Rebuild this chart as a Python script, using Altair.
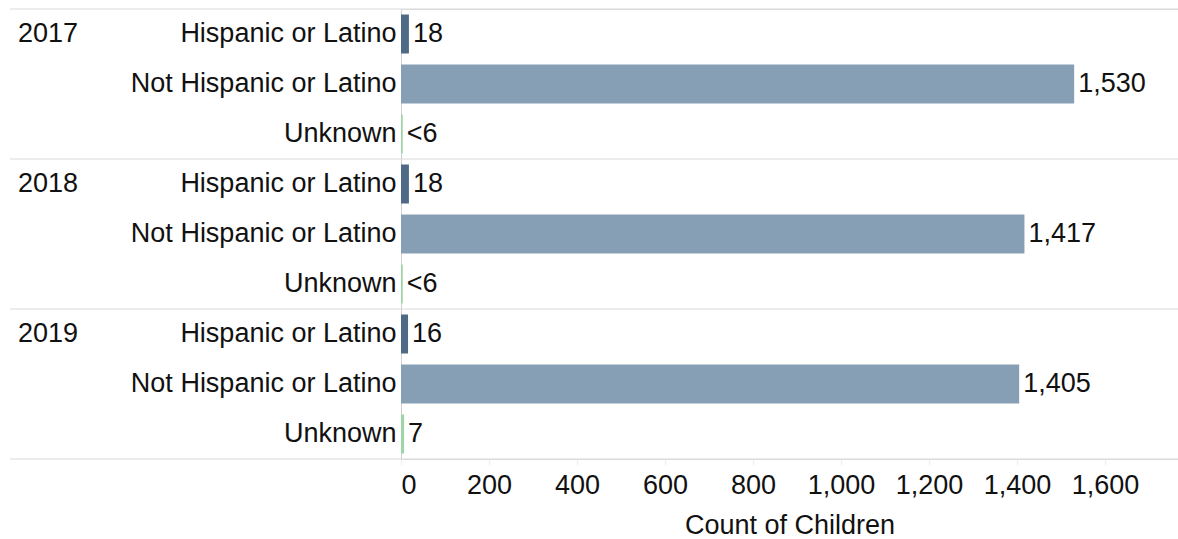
import altair as alt
import pandas as pd

years = ["2017", "2018", "2019"]
ethnicities = ["Hispanic or Latino", "Not Hispanic or Latino", "Unknown"]
# counts per year, in ethnicity order ("<6" suppressed values drawn as a small estimate)
counts = {
    "2017": [18, 1530, 4],
    "2018": [18, 1417, 4],
    "2019": [16, 1405, 7],
}
value_labels = {
    "2017": ["18", "1,530", "<6"],
    "2018": ["18", "1,417", "<6"],
    "2019": ["16", "1,405", "7"],
}
colors = ["#4e6a86", "#879fb4", "#9fd4a6"]
x_ticks = [0, 200, 400, 600, 800, 1000, 1200, 1400, 1600]

rows = []
for y in years:
    for i, e in enumerate(ethnicities):
        rows.append({
            "year": y,
            "eth": e,
            "key": f"{y}|{e}",
            "count": counts[y][i],
            "label": value_labels[y][i],
        })
df = pd.DataFrame(rows)
order = list(df["key"])

FONT = "Liberation Sans"
FS = 27
W, H = 777, 450

y_enc = alt.Y(
    "key:N",
    sort=order,
    scale=alt.Scale(paddingInner=0.22, paddingOuter=0.11),
    axis=alt.Axis(
        title=None,
        ticks=False,
        domain=True,
        domainColor="#cfcfcf",
        labelExpr="split(datum.value, '|')[1]",
        labelFontSize=FS,
        labelFont=FONT,
        labelColor="#111111",
        labelPadding=5,
        labelLimit=400,
    ),
)

x_enc = alt.X(
    "count:Q",
    scale=alt.Scale(domain=[0, 1766], nice=False, zero=True),
    axis=alt.Axis(
        values=x_ticks,
        format=",d",
        title="Count of Children",
        titleFontSize=FS,
        titleFont=FONT,
        titleFontWeight="normal",
        titleColor="#111111",
        titlePadding=14,
        labelFontSize=FS,
        labelFont=FONT,
        labelColor="#111111",
        labelFlush=True,
        labelPadding=7,
        domain=False,
        grid=False,
        ticks=True,
        tickColor="#eeeeee",
        tickSize=6,
    ),
)

base = alt.Chart(df)

bars = base.mark_bar().encode(
    y=y_enc,
    x=x_enc,
    color=alt.Color("eth:N", scale=alt.Scale(domain=ethnicities, range=colors), legend=None),
)

vals = base.mark_text(align="left", baseline="middle", dx=4, fontSize=FS, font=FONT, color="#111111").encode(
    y=alt.Y("key:N", sort=order),
    x=alt.X("count:Q"),
    text="label:N",
)

first_rows = base.transform_filter(alt.datum.eth == ethnicities[0])

year_text = first_rows.mark_text(align="left", baseline="middle", fontSize=FS, font=FONT, color="#111111").encode(
    y=alt.Y("key:N", sort=order),
    x=alt.value(-383),
    text="year:N",
)

seps = first_rows.mark_rule(color="#d9d9d9", strokeWidth=1, yOffset=-25).encode(
    y=alt.Y("key:N", sort=order),
    x=alt.value(-391),
    x2=alt.value(W),
)

bottom = base.transform_filter(alt.datum.key == order[-1]).mark_rule(
    color="#d9d9d9", strokeWidth=1, yOffset=25
).encode(
    y=alt.Y("key:N", sort=order),
    x=alt.value(-391),
    x2=alt.value(W),
)

chart = alt.layer(seps, bottom, bars, vals, year_text).properties(
    width=W,
    height=H,
    autosize=alt.AutoSizeParams(type="none"),
    padding={"left": 401, "top": 9, "right": 0, "bottom": 80},
).configure_view(stroke=None).configure(font=FONT)

chart.save("out.html", embed_options={"renderer": "svg", "actions": False})
